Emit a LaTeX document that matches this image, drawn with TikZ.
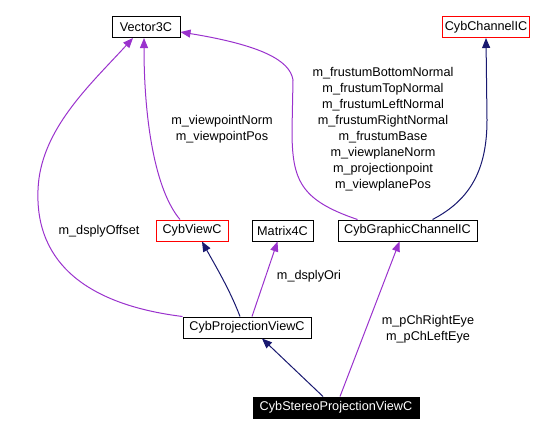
\documentclass[tikz,border=0pt]{standalone}
\usepackage{fontspec}
\setmainfont{Liberation Sans}
\usetikzlibrary{arrows.meta,calc}
\definecolor{relpurple}{HTML}{9A32CD}
\definecolor{inhnavy}{HTML}{191970}
\begin{document}
\begin{tikzpicture}[x=0.75pt,y=-0.75pt,
	cls/.style={draw=black,line width=0.75pt,minimum height=15.75pt,inner xsep=2pt,inner ysep=0pt,font=\fontsize{9.5}{12}\selectfont},
	redcls/.style={cls,draw=red},
	maincls/.style={cls,fill=black,text=white},
	lbl/.style={align=center,inner sep=0pt,font=\fontsize{9.5}{12}\selectfont},
	uses/.style={draw=relpurple,line width=0.75pt,-{Triangle[length=7.5pt,width=6pt]}},
	inherits/.style={draw=inhnavy,line width=0.75pt,-{Triangle[length=7.5pt,width=6pt]}}]

	\useasboundingbox (0,0) rectangle (545,436);

	%classes
	\node[cls,minimum width=51pt] (vec) at (146,27) {Vector3C};
	\node[redcls,minimum width=58.5pt] (chan) at (486,27) {CybChannelIC};
	\node[redcls,minimum width=54pt] (cybview) at (192,230.5) {CybViewC};
	\node[cls,minimum width=45.75pt] (matrix) at (282.5,230.5) {Matrix4C};
	\node[cls,minimum width=104.25pt] (graphic) at (407.5,230.5) {CybGraphicChannelIC};
	\node[cls,minimum width=96pt] (cybproj) at (247,327.5) {CybProjectionViewC};
	\node[maincls,minimum width=124.5pt] (stereo) at (336,407.5) {CybStereoProjectionViewC};

	%members
	\draw[uses] ($(cybview.north)+(-12,0)$) .. controls (155,190) and (144,120) .. ($(vec.south)+(-2,0)$);
	\node[lbl] (viewlbl) at (222,129) {m\_viewpointNorm\\m\_viewpointPos};
	%
	\draw[uses] (cybproj.north west) .. controls (90,305) and (35,265) .. (38,190)
		.. controls (40,130) and (90,85) .. ($(vec.south)+(-13,0)$);
	\node[lbl] (offsetlbl) at (99,231) {m\_dsplyOffset};
	%
	\draw[uses] ($(graphic.north)+(-50,0)$) .. controls (300,200) and (292,180) .. (292,130) -- (293,80)
		.. controls (290,60) and (260,45) .. ($(vec.east)+(0,5)$);
	\node[lbl] (frustumlbl) at (383,129) {m\_frustumBottomNormal\\m\_frustumTopNormal\\m\_frustumLeftNormal\\m\_frustumRightNormal\\m\_frustumBase\\m\_viewplaneNorm\\m\_projectionpoint\\m\_viewplanePos};
	%
	\draw[uses] ($(cybproj.north)+(5,0)$) -- ($(matrix.south)+(-5,0)$);
	\node[lbl] (orilbl) at (309,276) {m\_dsplyOri};
	%
	\draw[uses] ($(stereo.north)+(4,0)$) -- ($(graphic.south)+(-8,0)$);
	\node[lbl] (eyelbl) at (428,329) {m\_pChRightEye\\m\_pChLeftEye};

	%inheritance
	\draw[inherits] ($(graphic.north)+(25,0)$) .. controls (470,200) and (487,170) .. (487,120) -- (chan.south);
	\draw[inherits] ($(cybproj.north)+(-7,0)$) .. controls (230,290) and (215,265) .. ($(cybview.south)+(10,0)$);
	\draw[inherits] ($(stereo.north)+(-13,0)$) -- ($(cybproj.south)+(15,0)$);
\end{tikzpicture}
\end{document}
